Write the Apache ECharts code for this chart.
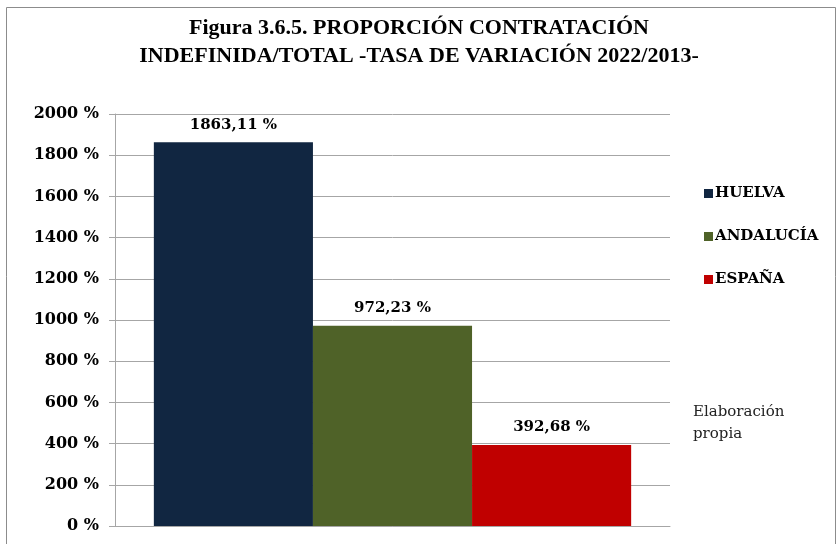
<!DOCTYPE html>
<html>
<head>
<meta charset="utf-8">
<script src="https://cdn.jsdelivr.net/npm/echarts@6/dist/echarts.min.js"></script>
<style>html,body{margin:0;padding:0;background:#fff;}#c{width:839px;height:544px;}</style>
</head>
<body>
<div id="c"></div>
<script>
var categories = [''];
var seriesNames = ['HUELVA', 'ANDALUCÍA', 'ESPAÑA'];
var huelva = [1863.11];
var andalucia = [972.23];
var espana = [392.68];
var colors = ['#112641', '#4f6228', '#c00000'];
var yMin = 0, yMax = 2000, yStep = 200;

var chart = echarts.init(document.getElementById('c'), null, {renderer: 'canvas'});
function fmt(v) { return v.toFixed(2).replace('.', ',') + ' %'; }
var serif = 'DejaVu Serif';
var dataSets = [huelva, andalucia, espana];
var series = seriesNames.map(function (n, i) {
  return {
    name: n, type: 'bar', data: dataSets[i], barGap: '0%', barCategoryGap: '14%',
    itemStyle: {color: colors[i]},
    label: {show: true, position: 'top', distance: 10, formatter: function (p) { return fmt(p.value); },
      fontFamily: serif, fontWeight: 'bold', fontSize: 15, color: '#000'}
  };
});
chart.setOption({
  animation: false,
  title: {
    text: 'Figura 3.6.5. PROPORCIÓN CONTRATACIÓN\nINDEFINIDA/TOTAL -TASA DE VARIACIÓN 2022/2013-',
    left: 414, top: 9, textAlign: 'center',
    textStyle: {fontFamily: 'Liberation Serif', fontWeight: 'bold', fontSize: 22, lineHeight: 28, color: '#000'}
  },
  legend: {
    orient: 'vertical', left: 699, top: 181, itemWidth: 9, itemHeight: 9, itemGap: 28,
    icon: 'rect',
    textStyle: {fontFamily: serif, fontWeight: 'bold', fontSize: 15, color: '#000', padding: [0, 0, 0, -3]},
    data: seriesNames
  },
  grid: {left: 115, right: 169, top: 114, bottom: 18, containLabel: false},
  xAxis: {
    type: 'category', data: categories,
    axisLine: {lineStyle: {color: '#a6a6a6'}}, axisTick: {show: false}, axisLabel: {show: false}
  },
  yAxis: {
    type: 'value', min: yMin, max: yMax, interval: yStep,
    axisLine: {show: true, lineStyle: {color: '#a6a6a6'}},
    axisTick: {show: true, length: 6, lineStyle: {color: '#a6a6a6'}},
    splitLine: {lineStyle: {color: '#a6a6a6'}},
    axisLabel: {formatter: function (v) { return v + ' %'; }, margin: 16,
      fontFamily: serif, fontWeight: 'bold', fontSize: 16, color: '#000'}
  },
  graphic: [
    {type: 'rect', shape: {x: 6.5, y: 7.5, width: 829, height: 560}, style: {fill: 'none', stroke: '#8c8c8c', lineWidth: 1}},
    {type: 'text', left: 693, top: 401, style: {text: 'Elaboración\npropia', fontFamily: serif, fontSize: 15, lineHeight: 22, fill: '#222'}}
  ],
  series: series
});
</script>
</body>
</html>
